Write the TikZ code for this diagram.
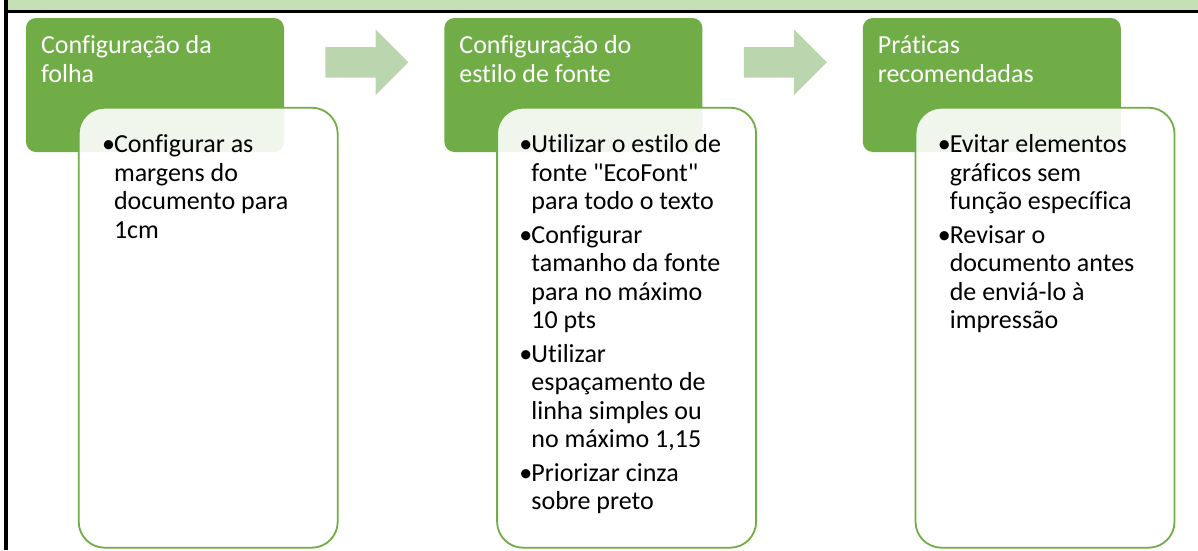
\documentclass[tikz,border=0pt]{standalone}
\usepackage{fontspec}
\newfontfamily\carlito{Carlito}[Ligatures=NoCommon]
\usepackage{tikz}
\usetikzlibrary{positioning,shapes.arrows}
\definecolor{verde}{RGB}{112,173,71}
\definecolor{verdeclaro}{RGB}{197,224,180}
\definecolor{setaverde}{RGB}{187,213,174}
\tikzstyle{etapa}=[
	rectangle,
	rounded corners=10,
	fill=verde,
	minimum width=258,
	minimum height=134,
	inner sep=0]
\tikzstyle{lista}=[
	rectangle,
	rounded corners=26,
	draw=verde,
	line width=1.8,
	fill=white,
	fill opacity=.9,
	minimum width=259,
	minimum height=440,
	inner sep=0]
\tikzstyle{seta}=[
	single arrow,
	fill=setaverde,
	minimum height=83,
	single arrow head extend=17.5,
	single arrow tip angle=90,
	inner xsep=0,
	inner ysep=15]
\tikzstyle{titulo}=[text=white,inner sep=0,font=\carlito\fontsize{26}{29}\selectfont]
\tikzstyle{texto}=[text=black,inner sep=0,font=\carlito\fontsize{26}{28.5}\selectfont]
\newcommand{\marcador}{\par\hangindent=12pt\hangafter=1\noindent\makebox[12pt][l]{\textbullet}}

\begin{document}
\begin{tikzpicture}[x=1pt,y=-1pt]
	\useasboundingbox (0,0) rectangle (1198,550);
	% moldura
	\fill[verdeclaro] (8,0) rectangle (1198,10);
	\fill[black] (8,10) rectangle (1198,12.5);
	\fill[black] (4,0) rectangle (8,550);
	\begin{scope}[node distance=160pt]
		\node[etapa] (folha) at (155,85) {};
		\node[etapa] (fonte) [right=of folha] {};
		\node[etapa] (pratica) [right=of fonte] {};
		\node[seta,right=41pt of folha.north east,anchor=tail,yshift=-44.5pt] (seta1) {};
		\node[seta,right=41pt of fonte.north east,anchor=tail,yshift=-44.5pt] (seta2) {};
		% caixas brancas
		\node[lista] (lfolha) [below right=89pt and 52pt of folha.north west] {};
		\node[lista] (lfonte) [below right=89pt and 52pt of fonte.north west] {};
		\node[lista] (lpratica) [below right=89pt and 52pt of pratica.north west] {};
		% titulos
		\node[titulo,below right=36pt and 15pt of folha.north west,anchor=base west] (tfolha)
			{\parbox[t]{235pt}{Configuração da\\folha}};
		\node[titulo,below right=36pt and 15pt of fonte.north west,anchor=base west] (tfonte)
			{\parbox[t]{235pt}{Configuração do\\estilo de fonte}};
		\node[titulo,below right=36pt and 15pt of pratica.north west,anchor=base west] (tpratica)
			{\parbox[t]{235pt}{Práticas\\recomendadas}};
		% itens
		\node[texto,below right=46pt and 24pt of lfolha.north west,anchor=base west] (ifolha)
			{\parbox[t]{230pt}{\parskip=5pt
				\marcador Configurar as\\margens do\\documento para\\1cm}};
		\node[texto,below right=46pt and 23pt of lfonte.north west,anchor=base west] (ifonte)
			{\parbox[t]{230pt}{\parskip=5pt
				\marcador Utilizar o estilo de\\fonte "EcoFont"\\para todo o texto
				\marcador Configurar\\tamanho da fonte\\para no máximo\\10 pts
				\marcador Utilizar\\espaçamento de\\linha simples ou\\no máximo 1,15
				\marcador Priorizar cinza\\sobre preto}};
		\node[texto,below right=46pt and 23pt of lpratica.north west,anchor=base west] (ipratica)
			{\parbox[t]{230pt}{\parskip=5pt
				\marcador Evitar elementos\\gráficos sem\\função específica
				\marcador Revisar o\\documento antes\\de enviá-lo à\\impressão}};
	\end{scope}
\end{tikzpicture}
\end{document}
